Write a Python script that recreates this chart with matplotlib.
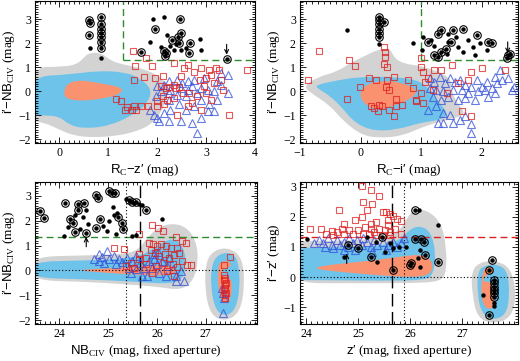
"""
Four colour-colour / colour-magnitude panels: model contours (grey / blue / salmon),
red open squares, blue open triangles, black dots and circled dots.
Saved as out.png, 520x361 px.
"""

import matplotlib
matplotlib.use("Agg")
import matplotlib.pyplot as plt
from matplotlib.path import Path
from matplotlib.patches import PathPatch
from matplotlib.ticker import MultipleLocator, FixedLocator
import numpy as np

plt.rcParams["font.family"] = "Liberation Serif"
plt.rcParams["mathtext.fontset"] = "custom"
plt.rcParams["mathtext.rm"] = "Liberation Serif"
plt.rcParams["mathtext.sf"] = "Liberation Sans"
plt.rcParams["axes.unicode_minus"] = True

# --- palette ---
GREYF  = "#d3d3d3"
BLUEF  = "#6ec3ea"
SALMON = "#fa9270"
RED    = "#dd2020"
BLUE   = "#3450d8"
GREEN  = "#2e8b2e"

# =====================================================================
# data: panel 1  (R_C - z'  vs  i' - NB_CIV)
# =====================================================================
p1_grey = [(-0.6, -1.25), (-0.3, -1.3), (0.0, -1.6), (0.3, -1.85), (0.7, -1.92),
           (1.2, -1.85), (1.6, -1.65), (1.9, -1.35), (2.1, -0.8), (2.2, -0.3),
           (2.2, 0.3), (2.0, 0.7), (1.6, 1.0), (1.2, 1.15), (1.0, 1.35),
           (0.85, 1.6), (0.6, 1.6), (0.48, 1.35), (0.35, 1.12), (0.1, 1.02),
           (-0.6, 1.0)]
p1_blue = [(-0.6, 0.6), (0.2, 0.7), (0.8, 0.85), (1.3, 0.8), (1.6, 0.6),
           (1.9, 0.1), (1.8, -0.5), (1.5, -1.0), (1.0, -1.45), (0.5, -1.55),
           (0.2, -1.4), (0.0, -1.05), (-0.3, -1.0), (-0.6, -1.0)]
p1_salmon = [(0.1, 0.0), (0.15, 0.3), (0.35, 0.45), (0.6, 0.42), (0.9, 0.3),
             (1.2, 0.2), (1.3, 0.05), (1.2, -0.15), (0.9, -0.3), (0.5, -0.4),
             (0.2, -0.35), (0.1, -0.2)]
p1_sq_x = [1.51, 1.77, 1.55, 1.90, 1.53, 1.73, 1.95, 2.12, 2.34, 2.55, 2.75, 2.89,
           3.06, 3.20, 3.27, 3.84, 3.10, 3.00, 2.88, 2.96, 3.16, 3.30, 2.48, 2.34,
           2.45, 2.38, 2.24, 2.17, 2.12, 2.21, 2.34, 2.00, 2.00, 1.81, 1.66, 1.52,
           1.38, 1.35, 1.49, 1.16, 1.25, 2.65, 2.72, 2.82, 2.99, 2.89, 3.10, 3.34,
           3.47, 2.53, 2.41, 2.62, 1.56, 2.14, 2.07, 2.62]
p1_sq_y = [1.69, 1.40, 1.03, 1.03, 0.48, 0.59, 0.55, 0.62, 1.17, 0.96, 0.82, 0.96,
           0.89, 0.96, 0.89, 0.89, 0.69, 0.55, 0.48, 0.23, 0.34, 0.48, 0.62, 0.27,
           0.18, 0.14, 0.18, 0.14, -0.21, -0.35, -0.28, -0.42, -0.62, -0.60, -0.62, -0.60,
           -0.65, -0.76, -0.76, -0.32, -0.42, -0.07, -0.48, -0.21, -0.07, -0.76, -0.35, 0.07,
           -1.00, -0.07, -0.97, -0.62, -0.76, -0.55, 0.21, 1.10]
p1_tri_x = [3.30, 3.23, 2.96, 2.75, 2.62, 2.51, 2.41, 2.24, 2.14, 2.00, 2.27, 2.48,
            2.62, 2.72, 2.89, 3.03, 3.16, 2.82, 2.58, 2.41, 2.24, 2.07, 1.97, 2.89,
            3.06, 3.23, 2.75, 2.58, 2.45, 2.27, 2.14, 2.00, 2.03, 2.24, 2.48, 2.89,
            3.16, 3.44, 2.82, 2.72, 3.03, 3.30, 3.44, 2.24, 1.86, 1.93]
p1_tri_y = [0.75, 0.41, 0.55, 0.48, 0.41, 0.34, 0.48, 0.41, 0.27, 0.21, 0.07, 0.14,
            0.07, 0.21, 0.14, 0.07, 0.00, -0.07, -0.21, -0.14, -0.07, 0.00, -0.21, -0.35,
            -0.55, -0.35, -0.62, -0.76, -0.55, -0.76, -0.90, -1.10, -1.24, -1.24, -1.24, -1.10,
            -0.83, -0.07, -1.72, -1.31, -0.83, 0.27, 0.69, -0.35, -0.76, -0.97]
p1_dot_x = [0.62, 0.86, 1.92, 2.14, 1.86, 2.21, 2.27, 2.07, 2.34, 2.87, 2.89, 2.58,
            2.38, 2.48]
p1_dot_y = [1.80, 1.38, 3.00, 3.07, 2.06, 2.34, 1.86, 1.83, 1.72, 2.16, 1.72, 1.79,
            1.95, 1.72]
p1_circ_x = [0.60, 0.62, 0.60, 0.84, 0.84, 0.84, 0.84, 0.84, 0.84, 0.84, 2.46, 1.95,
             2.48, 2.42, 2.31, 2.45, 2.68, 2.14, 2.18, 2.16, 2.66, 1.67, 3.42]
p1_circ_y = [2.95, 2.82, 2.35, 3.08, 2.80, 2.60, 2.40, 2.25, 2.05, 1.80, 3.00, 2.60,
             2.40, 2.24, 2.13, 2.02, 2.02, 1.69, 1.58, 1.47, 1.58, 1.65, 1.36]
p1_arrows = [(3.42, 1.95, 1.52)]          # x, tail y, head y

# =====================================================================
# data: panel 2  (R_C - i'  vs  i' - NB_CIV)
# =====================================================================
p2_grey = [(-0.95, 0.2), (-0.7, 0.6), (-0.4, 0.8), (-0.15, 1.2), (0.1, 1.5),
           (0.3, 1.75), (0.5, 1.75), (0.55, 1.4), (0.7, 1.15), (1.0, 1.05),
           (1.3, 0.8), (1.5, 0.5), (1.5, 0.0), (1.6, -0.5), (1.75, -0.95),
           (1.5, -1.15), (1.1, -1.4), (0.7, -1.85), (0.3, -1.95), (0.0, -1.8),
           (-0.3, -1.2), (-0.5, -0.6), (-0.8, -0.1)]
p2_blue = [(-0.75, 0.25), (-0.4, 0.45), (0.0, 0.6), (0.5, 0.6), (0.9, 0.5),
           (1.1, 0.2), (1.2, -0.2), (1.35, -0.6), (1.45, -1.0), (1.3, -1.2),
           (1.0, -1.3), (0.6, -1.6), (0.2, -1.65), (-0.1, -1.3), (-0.3, -0.7),
           (-0.5, -0.2), (-0.7, 0.1)]
p2_salmon = [(0.0, 0.0), (0.1, 0.3), (0.4, 0.45), (0.7, 0.35), (0.95, 0.05),
             (0.85, -0.3), (0.6, -0.55), (0.3, -0.8), (0.1, -0.6), (0.0, -0.3)]
p2_sq_x = [-0.68, -0.86, -0.19, -0.10, 0.39, 0.40, 0.40, 0.39, 0.44, 1.00, 1.00, 1.22,
           1.33, 1.51, 1.83, 2.00, 2.38, 1.03, 1.06, 1.11, 0.86, 0.78, 0.56, 0.44,
           0.42, 0.47, 0.25, 0.14, -0.01, -0.22, 0.17, 0.22, 0.31, 0.36, 0.28, 0.47,
           0.56, 0.58, 0.69, 0.58, 0.92, 0.92, 1.03, 1.00, 1.19, 1.67, 1.83, 1.42,
           1.61, 1.78]
p2_sq_y = [1.66, 0.47, 1.29, 1.05, 1.84, 1.63, 1.42, 1.15, 1.01, 1.01, 1.38, 0.88,
           0.88, 1.08, 0.81, 0.95, 0.88, 0.81, 0.40, 0.53, 0.12, 0.47, 0.58, 0.47,
           0.19, 0.05, 0.47, 0.53, 0.16, -0.33, -0.63, -0.70, -0.56, -0.63, -0.81, -0.77,
           -1.01, -0.63, -0.56, -0.33, -0.36, -0.42, -0.49, -0.08, 0.05, -0.84, -1.04, -0.08,
           0.33, 0.47]
p2_tri_x = [1.14, 1.22, 1.31, 1.39, 1.47, 1.56, 1.64, 1.73, 1.82, 1.92, 2.00, 2.08,
            2.17, 2.25, 2.33, 2.44, 2.53, 2.50, 2.22, 2.11, 1.94, 1.78, 1.67, 1.53,
            1.36, 1.25, 1.14, 1.19, 1.33, 1.44, 1.61, 1.72, 1.89, 1.25, 1.36, 1.47,
            1.28, 1.36, 1.53, 1.64, 1.72, 1.83, 1.83, 1.11, 2.06, 2.22, 2.31]
p2_tri_y = [0.53, 0.40, 0.60, 0.33, 0.53, 0.40, 0.47, 0.26, 0.16, 0.47, 0.19, 0.40,
            0.12, 0.33, 0.47, 0.53, 0.19, 0.05, -0.08, -0.22, 0.00, -0.08, 0.05, 0.05,
            -0.01, 0.05, 0.12, -0.22, -0.36, -0.22, -0.36, -0.29, -0.36, -0.63, -0.90, -0.97,
            -1.32, -1.32, -1.32, -1.18, -1.04, -1.38, -1.73, -0.77, 0.05, 0.60, 0.88]
p2_dot_x = [0.31, -0.23, 0.86, 1.03, 1.01, 1.44, 1.58, 1.78, 1.97, 1.86, 1.69, 1.89,
            1.61, 1.22, 1.42, 2.08, 1.44, 1.16]
p2_dot_y = [1.97, 2.55, 2.00, 2.25, 1.70, 2.38, 2.25, 2.11, 2.00, 1.84, 1.63, 1.49,
            1.84, 1.86, 1.56, 1.70, 2.04, 2.11]
p2_circ_x = [0.30, 0.30, 0.30, 0.30, 0.30, 0.30, 0.39, 1.28, 1.33, 1.69, 1.53, 1.11,
             1.50, 1.92, 2.11, 2.17, 1.41, 1.33, 1.22, 1.28, 2.43, 2.47, 2.42]
p2_circ_y = [3.07, 2.96, 2.80, 2.59, 2.42, 2.25, 2.86, 2.38, 2.55, 2.59, 2.55, 2.04,
             2.04, 2.32, 2.04, 2.00, 1.77, 1.63, 1.49, 1.42, 1.49, 1.56, 1.40]
p2_arrows = [(2.43, 2.05, 1.58)]

# =====================================================================
# data: panel 3  (NB_CIV  vs  i' - NB_CIV)
# =====================================================================
p3_grey = [(23.4, 0.55), (24.5, 0.6), (25.3, 0.65), (25.6, 0.8), (25.8, 1.3),
           (26.0, 1.7), (26.3, 1.9), (26.6, 1.75), (26.8, 1.2), (26.85, 0.4),
           (26.75, -0.4), (26.5, -0.8), (26.0, -0.65), (25.3, -0.55), (24.5, -0.45),
           (23.4, -0.4)]
p3_blue = [(23.4, 0.35), (24.5, 0.4), (25.2, 0.45), (25.7, 0.6), (26.0, 1.0),
           (26.3, 1.3), (26.5, 1.1), (26.6, 0.5), (26.55, -0.3), (26.3, -0.55),
           (25.5, -0.45), (24.5, -0.35), (23.4, -0.3)]
p3_salmon = [(24.4, 0.02), (25.0, 0.08), (25.6, 0.15), (26.0, 0.22), (26.3, 0.2),
             (26.4, 0.0), (26.3, -0.2), (25.8, -0.2), (25.0, -0.1), (24.5, -0.02)]
p3_grey_r = [(27.0, 0.4), (27.2, 0.85), (27.5, 0.9), (27.75, 0.5), (27.8, -0.6),
             (27.7, -1.7), (27.4, -2.05), (27.1, -1.8), (26.98, -0.8)]
p3_blue_r = [(27.12, 0.3), (27.3, 0.7), (27.55, 0.7), (27.68, 0.3), (27.7, -0.8),
             (27.6, -1.6), (27.4, -1.85), (27.2, -1.6), (27.1, -0.7)]
p3_salmon_r = [(27.25, 0.25), (27.35, 0.38), (27.5, 0.35), (27.52, 0.15), (27.38, 0.1),
               (27.28, -0.2), (27.5, -0.25), (27.55, -0.7), (27.48, -1.3),
               (27.35, -1.35), (27.25, -0.8)]
p3_sq_x = [25.64, 25.90, 26.02, 26.12, 26.38, 26.52, 26.59, 25.84, 25.92, 26.00, 26.08,
           26.18, 26.28, 26.42, 25.88, 25.96, 26.04, 26.16, 26.25, 26.35, 26.45, 26.52,
           26.62, 26.69, 25.77, 25.63, 25.32, 25.12, 25.63, 25.77, 25.97, 26.14, 26.32,
           26.42, 25.90, 26.21, 26.35, 25.46, 25.36, 25.53,
           27.38, 27.40, 27.38, 27.41, 27.39, 27.40, 27.38, 27.41, 27.39, 27.40,
           27.38, 27.50]
p3_sq_y = [1.46, 1.83, 1.70, 1.60, 1.33, 1.19, 1.12, 1.12, 1.06, 0.99, 1.08,
           0.99, 0.92, 0.92, 0.83, 0.72, 0.58, 0.65, 0.51, 0.61, 0.72, 0.38,
           0.20, 0.21, 0.51, 0.65, 0.85, 0.92, 0.44, 0.24, 0.17, 0.31, 0.24,
           0.15, -0.10, -0.03, -0.23, 0.31, 0.17, 0.10,
           -0.20, -0.30, -0.40, -0.50, -0.60, -0.70, -0.80, -0.90, -1.00, -1.10,
           0.22, 0.55]
p3_tri_x = [24.98, 25.12, 25.22, 25.01, 24.88, 24.81, 24.91, 25.15, 25.29, 25.39, 25.49,
            25.56, 25.66, 25.73, 25.84, 25.93, 26.00, 26.10, 26.21, 26.32, 26.38, 26.18,
            26.04, 25.90, 25.80, 25.70, 25.56, 25.42, 25.46, 25.93, 26.02, 26.25, 26.49,
            24.81, 24.71, 26.55, 26.38, 27.36, 27.36, 27.38, 27.33]
p3_tri_y = [0.79, 0.58, 0.44, 0.44, 0.55, 0.38, 0.28, 0.24, 0.34, 0.51, 0.38,
            0.58, 0.31, 0.10, 0.38, 0.44, 0.24, 0.38, 0.17, 0.04, -0.23, -0.23,
            -0.10, 0.10, -0.23, -0.23, 0.04, 0.10, -0.10, 0.65, 0.74, 0.51, -0.03,
            0.65, 0.44, -0.44, -0.44, -1.70, -0.91, -1.12, -0.71]
p3_dot_x = [24.09, 24.55, 24.49, 24.59, 24.32, 24.17, 24.43, 24.89, 25.10, 25.12, 24.98,
            25.01, 25.15, 25.37, 25.49, 25.58, 26.10, 25.70, 25.63, 25.18, 25.45, 25.52]
p3_dot_y = [1.37, 2.44, 2.14, 1.87, 2.21, 1.74, 1.67, 1.80, 2.55, 2.24, 1.60,
            1.97, 1.47, 2.86, 1.40, 1.42, 2.08, 2.62, 2.65, 2.32, 2.78, 2.70]
p3_circ_x = [23.61, 23.68, 24.12, 24.38, 24.50, 24.38, 24.21, 24.27, 24.32, 24.55, 24.74,
             24.79, 24.74, 24.84, 25.01, 25.08, 25.14, 25.20, 25.29, 25.30, 25.42, 25.49,
             25.56, 25.77]
p3_circ_y = [2.37, 2.10, 2.69, 2.65, 2.69, 2.42, 2.08, 1.90, 1.56, 1.50, 3.02,
             2.92, 1.70, 2.08, 3.19, 3.12, 3.10, 2.14, 1.90, 1.67, 2.82, 2.76,
             2.73, 2.42]
p3_arrows = [(24.55, 0.95, 1.35)]

# =====================================================================
# data: panel 4  (z'  vs  i' - z')
# =====================================================================
p4_grey = [(23.6, 1.2), (24.5, 1.2), (25.3, 1.25), (25.8, 1.5), (25.95, 2.0),
           (26.1, 2.25), (26.35, 2.2), (26.6, 1.8), (26.7, 1.0), (26.7, 0.2),
           (26.6, -0.15), (26.0, -0.2), (25.0, -0.2), (23.6, -0.2)]
p4_blue = [(23.6, 0.95), (24.5, 1.0), (25.3, 1.0), (25.8, 1.2), (26.0, 1.6),
           (26.2, 1.7), (26.4, 1.5), (26.5, 0.8), (26.45, 0.1), (26.3, -0.1),
           (25.5, -0.12), (24.5, -0.1), (23.6, -0.1)]
p4_salmon = [(24.1, 0.3), (24.5, 0.42), (25.0, 0.5), (25.5, 0.6), (25.9, 0.7),
             (26.2, 0.75), (26.4, 0.6), (26.45, 0.3), (26.35, 0.05), (26.0, 0.0),
             (25.5, 0.05), (25.0, 0.12), (24.5, 0.2)]
p4_grey_r = [(27.18, 0.2), (27.35, 0.5), (27.65, 0.55), (27.95, 0.3), (28.05, -0.6),
             (27.95, -1.35), (27.6, -1.55), (27.3, -1.35), (27.2, -0.6)]
p4_blue_r = [(27.3, 0.2), (27.45, 0.4), (27.7, 0.42), (27.88, 0.2), (27.92, -0.6),
             (27.85, -1.25), (27.6, -1.42), (27.38, -1.2), (27.3, -0.6)]
p4_salmon_r = [(27.4, 0.25), (27.5, 0.35), (27.62, 0.28), (27.6, 0.12), (27.48, 0.1),
               (27.38, -0.15), (27.58, -0.15), (27.65, -0.6), (27.6, -1.05),
               (27.45, -1.05), (27.36, -0.6)]
p4_sq_x = [25.07, 25.24, 25.41, 25.10, 25.27, 25.17, 24.63, 24.73, 24.69, 24.49, 24.08,
           24.29, 24.93, 25.07, 24.83, 25.00, 25.14, 25.24, 25.34, 25.48, 25.54, 25.61,
           25.68, 25.75, 25.83, 25.58, 25.41, 25.51, 25.61, 25.71, 25.31, 25.20, 25.10,
           24.90, 24.73, 24.59, 24.52, 24.39, 25.34, 25.48, 25.61, 25.82, 25.24, 25.58]
p4_sq_y = [3.03, 2.87, 2.70, 2.49, 2.43, 2.21, 2.21, 1.77, 1.61, 1.53, 1.58,
           1.58, 1.88, 1.99, 1.55, 1.55, 1.66, 1.77, 1.83, 2.16, 2.16, 2.10,
           2.01, 1.94, 1.86, 1.88, 1.61, 1.55, 1.50, 1.58, 1.50, 1.44, 1.44,
           1.44, 1.44, 1.50, 1.39, 1.44, 1.39, 1.39, 1.39, 1.44, 1.61, 1.72]
p4_tri_x = [24.15, 24.25, 24.32, 24.42, 24.49, 24.59, 24.66, 24.73, 24.80, 24.90, 24.97,
            25.07, 25.17, 25.24, 25.31, 25.37, 25.48, 25.58, 25.68, 25.75, 25.82, 25.88,
            24.52, 24.93, 25.27, 25.54, 24.73, 24.36, 25.10, 24.83]
p4_tri_y = [1.12, 1.23, 1.12, 1.28, 1.06, 1.23, 1.06, 1.17, 1.00, 1.12, 1.23,
            1.06, 1.17, 1.00, 1.23, 1.06, 1.17, 1.06, 1.17, 1.00, 1.12, 1.28,
            0.95, 0.90, 0.84, 0.90, 0.90, 1.01, 1.28, 1.28]
p4_dot_x = [24.01, 24.73, 25.37, 25.51, 25.61, 25.68, 25.78, 25.92, 26.19, 26.16, 26.19,
            26.53, 26.18, 27.41, 27.62, 27.62, 25.17, 25.34]
p4_dot_y = [1.25, 0.68, 0.51, 0.84, 1.12, 0.95, 1.01, 1.01, 0.90, 0.62, 0.35,
            1.72, 2.21, -0.58, -0.96, -0.85, 1.34, 1.17]
p4_circ_x = [24.80, 25.00, 25.24, 25.46, 25.68, 26.10, 26.10, 26.22, 26.26, 26.29, 25.99,
             26.02, 26.53, 27.58, 27.52, 27.62, 27.62, 27.61, 27.62, 27.61, 27.61, 27.52]
p4_circ_y = [1.06, 0.95, 0.68, 1.34, 0.24, 2.23, 1.25, 1.25, 1.17, 0.73, 0.40,
             0.48, 0.51, 0.57, 0.24, -0.09, -0.20, -0.31, -0.42, -0.53, -0.64, -1.24]
p4_arrows = [(24.78, 0.45, 0.78)]

# magnitude-axis labels (no label at 28)
mag_ticks = [24, 25, 26, 27]


def smooth_patch(pts, fc, z):
    """closed smooth outline through the midpoints of a control polygon"""
    p = np.asarray(pts, float)
    n = len(p)
    mids = (p + np.roll(p, -1, axis=0)) / 2.0
    verts = [mids[-1]]
    codes = [Path.MOVETO]
    for i in range(n):
        verts += [p[i], mids[i]]
        codes += [Path.CURVE3, Path.CURVE3]
    verts.append(mids[-1])
    codes.append(Path.CLOSEPOLY)
    return PathPatch(Path(verts, codes), facecolor=fc, edgecolor="none", zorder=z)


def contours(ax, grey, blue, salmon):
    ax.add_patch(smooth_patch(grey, GREYF, 0.5))
    ax.add_patch(smooth_patch(blue, BLUEF, 0.6))
    ax.add_patch(smooth_patch(salmon, SALMON, 0.7))


def points(ax, sqx, sqy, trx, try_, dx, dy, cx, cy, arrows):
    ax.plot(trx, try_, "^", ls="none", mfc="none", mec=BLUE, ms=5.4, mew=0.8,
            alpha=0.75, zorder=3)
    ax.plot(sqx, sqy, "s", ls="none", mfc="none", mec=RED, ms=5.0, mew=0.8,
            alpha=0.75, zorder=4)
    ax.plot(dx, dy, "o", ls="none", mfc="k", mec="k", ms=2.2, zorder=5)
    ax.plot(cx, cy, "o", ls="none", mfc="k", mec="k", ms=2.2, zorder=5)
    ax.plot(cx, cy, "o", ls="none", mfc="none", mec="k", ms=5.4, mew=0.8, zorder=5)
    for x, y0, y1 in arrows:
        ax.annotate("", xy=(x, y1), xytext=(x, y0),
                    arrowprops=dict(arrowstyle="->", lw=0.8, color="k",
                                    shrinkA=0, shrinkB=0, mutation_scale=7),
                    zorder=6)


def style(ax, xlim, ylim, xmaj, ymaj, xlabel, ylabel):
    ax.set_xlim(*xlim)
    ax.set_ylim(*ylim)
    if isinstance(xmaj, list):
        ax.xaxis.set_major_locator(FixedLocator(xmaj))
    else:
        ax.xaxis.set_major_locator(MultipleLocator(xmaj))
    ax.xaxis.set_minor_locator(MultipleLocator(0.1))
    ax.yaxis.set_major_locator(MultipleLocator(ymaj))
    ax.yaxis.set_minor_locator(MultipleLocator(0.1))
    ax.tick_params(which="both", direction="in", top=True, right=True,
                   labelsize=8.5, width=0.6, pad=3)
    ax.tick_params(which="major", length=4)
    ax.tick_params(which="minor", length=2)
    for s in ax.spines.values():
        s.set_linewidth(0.8)
    ax.set_xlabel(xlabel, fontsize=9.5, labelpad=2)
    ax.set_ylabel(ylabel, fontsize=9.5, labelpad=1)


YLAB_NB = "$\\mathsf{i\u2032{-}NB}_{\\mathrm{CIV}}$ (mag)"

fig = plt.figure(figsize=(5.2, 3.61), dpi=100)
W, H = 520.0, 361.0


def place(x0, y0, x1, y1):
    return fig.add_axes([x0 / W, 1 - y1 / H, (x1 - x0) / W, (y1 - y0) / H])


ax1 = place(35, 1, 255, 143)
ax2 = place(300, 1, 518, 143)
ax3 = place(35, 182, 257, 324)
ax4 = place(300, 182, 518, 324)

# ---- panel 1 ----
contours(ax1, p1_grey, p1_blue, p1_salmon)
ax1.plot([1.3, 1.3], [1.3, 4.0], ls=(0, (5, 3)), color=GREEN, lw=1.0, zorder=2)
ax1.plot([1.3, 4.0], [1.3, 1.3], ls=(0, (5, 3)), color=GREEN, lw=1.0, zorder=2)
points(ax1, p1_sq_x, p1_sq_y, p1_tri_x, p1_tri_y, p1_dot_x, p1_dot_y,
       p1_circ_x, p1_circ_y, p1_arrows)
style(ax1, (-0.5, 4.0), (-2.15, 3.75), 1, 1,
      "$\\mathsf{R}_{\\mathrm{C}}\\mathsf{{-}z\u2032}$ (mag)", YLAB_NB)

# ---- panel 2 ----
contours(ax2, p2_grey, p2_blue, p2_salmon)
ax2.plot([1.0, 1.0], [1.3, 4.0], ls=(0, (5, 3)), color=GREEN, lw=1.0, zorder=2)
ax2.plot([1.0, 2.6], [1.3, 1.3], ls=(0, (5, 3)), color=GREEN, lw=1.0, zorder=2)
points(ax2, p2_sq_x, p2_sq_y, p2_tri_x, p2_tri_y, p2_dot_x, p2_dot_y,
       p2_circ_x, p2_circ_y, p2_arrows)
style(ax2, (-1.0, 2.6), (-2.15, 3.75), 1, 1,
      "$\\mathsf{R}_{\\mathrm{C}}\\mathsf{{-}i\u2032}$ (mag)", YLAB_NB)

# ---- panel 3 ----
contours(ax3, p3_grey, p3_blue, p3_salmon)
contours(ax3, p3_grey_r, p3_blue_r, p3_salmon_r)
ax3.axhline(1.35, ls=(0, (5, 3)), color=GREEN, lw=1.0, zorder=2)
ax3.axhline(0.0, ls=(0, (1, 2)), color="k", lw=0.8, zorder=2)
ax3.axvline(25.36, ls=(0, (1, 2)), color="k", lw=0.8, zorder=2)
ax3.axvline(25.66, ls=(0, (9, 4)), color="k", lw=1.0, zorder=2)
points(ax3, p3_sq_x, p3_sq_y, p3_tri_x, p3_tri_y, p3_dot_x, p3_dot_y,
       p3_circ_x, p3_circ_y, p3_arrows)
style(ax3, (23.5, 28.05), (-2.15, 3.55), mag_ticks, 1,
      "$\\mathsf{NB}_{\\mathrm{CIV}}$ (mag, fixed aperture)", YLAB_NB)

# ---- panel 4 ----
contours(ax4, p4_grey, p4_blue, p4_salmon)
contours(ax4, p4_grey_r, p4_blue_r, p4_salmon_r)
ax4.axhline(1.33, ls=(0, (5, 3)), color=RED, lw=1.0, zorder=2)
ax4.axhline(0.0, ls=(0, (1, 2)), color="k", lw=0.8, zorder=2)
ax4.axvline(25.88, ls=(0, (1, 2)), color="k", lw=0.8, zorder=2)
ax4.axvline(25.65, ls=(0, (9, 4)), color="k", lw=1.0, zorder=2)
points(ax4, p4_sq_x, p4_sq_y, p4_tri_x, p4_tri_y, p4_dot_x, p4_dot_y,
       p4_circ_x, p4_circ_y, p4_arrows)
style(ax4, (23.88, 28.08), (-1.55, 3.15), mag_ticks, 1,
      "$\\mathsf{z\u2032}$ (mag, fixed aperture)", "$\\mathsf{i\u2032{-}z\u2032}$ (mag)")

fig.savefig("out.png", dpi=100, facecolor="white")
